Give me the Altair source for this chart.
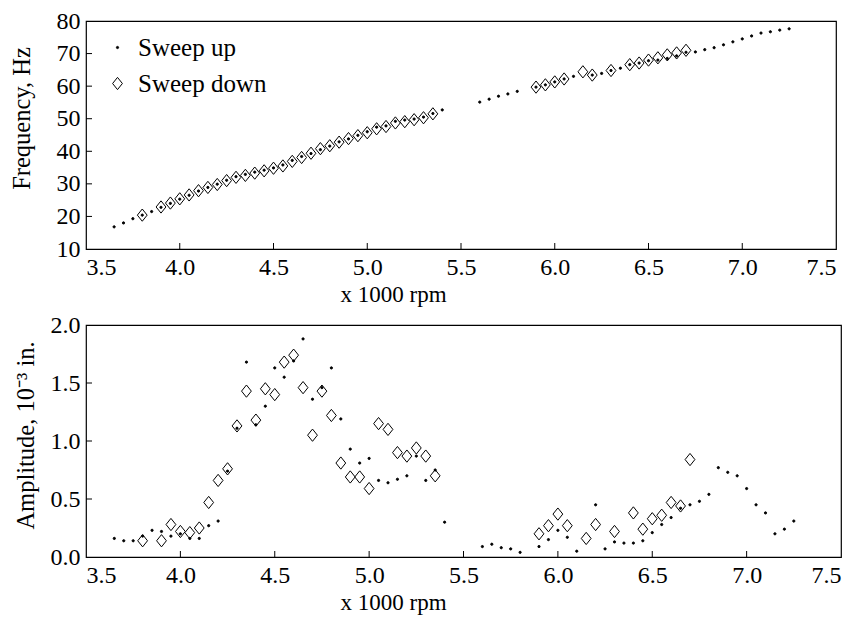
import altair as alt
import pandas as pd

FONT = "Liberation Serif"

# ---------------- data ----------------
# Sweep up (dots): speed in x1000 rpm
up_rpm = [3.65, 3.70, 3.75, 3.80, 3.85, 3.90, 3.95, 4.00, 4.05, 4.10, 4.15, 4.20,
          4.25, 4.30, 4.35, 4.40, 4.45, 4.50, 4.55, 4.60, 4.65, 4.70, 4.75, 4.80,
          4.85, 4.90, 4.95, 5.00, 5.05, 5.10, 5.15, 5.20, 5.25, 5.30, 5.35, 5.40,
          5.60, 5.65, 5.70, 5.75, 5.80,
          5.90, 5.95, 6.00, 6.05, 6.10,
          6.20, 6.25, 6.30, 6.35, 6.40, 6.45, 6.50, 6.55, 6.60, 6.65, 6.70, 6.75,
          6.80, 6.85, 6.90, 6.95, 7.00, 7.05, 7.10, 7.15, 7.20, 7.25]
up_freq = [16.8, 18.0, 19.3, 20.4, 21.5, 22.8, 24.0, 25.3, 26.5, 27.8, 28.9, 29.9,
           31.1, 32.2, 32.9, 33.6, 34.2, 34.9, 35.8, 37.2, 38.4, 39.3, 40.5, 41.6,
           42.9, 43.8, 44.9, 46.0, 47.4, 47.8, 49.2, 49.6, 49.9, 50.5, 51.6, 52.7,
           55.1, 56.0, 56.9, 57.6, 58.4,
           59.7, 60.4, 61.3, 62.2, 63.0,
           63.4, 63.9, 64.8, 65.5, 66.6, 67.1, 67.8, 68.0, 68.5, 69.3, 70.4, 70.5,
           71.2, 71.8, 72.7, 73.6, 74.5, 75.4, 76.3, 76.7, 77.2, 77.6]
up_amp = [0.16, 0.14, 0.14, 0.18, 0.23, 0.22, 0.18, 0.20, 0.16, 0.16, 0.27, 0.31,
          0.74, 1.11, 1.68, 1.14, 1.30, 1.63, 1.55, 1.69, 1.88, 1.36, 1.46, 1.63,
          1.19, 0.93, 0.81, 0.85, 0.66, 0.64, 0.67, 0.70, 0.87, 0.66, 0.75, 0.30,
          0.09, 0.11, 0.08, 0.07, 0.04,
          0.09, 0.15, 0.23, 0.17, 0.05,
          0.45, 0.07, 0.13, 0.12, 0.12, 0.14, 0.21, 0.28, 0.34, 0.42, 0.45, 0.48,
          0.54, 0.77, 0.73, 0.70, 0.59, 0.45, 0.38, 0.20, 0.24, 0.31]

# Sweep down (diamonds)
down_rpm = [3.80, 3.90, 3.95, 4.00, 4.05, 4.10, 4.15, 4.20, 4.25, 4.30, 4.35, 4.40,
            4.45, 4.50, 4.55, 4.60, 4.65, 4.70, 4.75, 4.80, 4.85, 4.90, 4.95, 5.00,
            5.05, 5.10, 5.15, 5.20, 5.25, 5.30, 5.35,
            5.90, 5.95, 6.00, 6.05, 6.15, 6.20, 6.30, 6.40, 6.45, 6.50, 6.55, 6.60,
            6.65, 6.70]
down_freq = [20.4, 22.9, 24.1, 25.4, 26.6, 27.9, 28.9, 29.8, 31.0, 32.0, 32.6, 33.3,
             34.0, 34.8, 35.5, 36.9, 38.1, 39.4, 40.8, 41.7, 42.8, 43.9, 44.8, 45.7,
             46.9, 47.6, 48.7, 49.1, 49.7, 50.3, 51.5,
             59.7, 60.4, 61.3, 62.2, 64.4, 63.4, 64.8, 66.6, 67.1, 68.0, 68.7, 69.6,
             70.2, 71.0]
down_amp = [0.14, 0.14, 0.28, 0.22, 0.21, 0.25, 0.47, 0.66, 0.76, 1.13, 1.43, 1.18,
            1.45, 1.40, 1.68, 1.74, 1.46, 1.05, 1.43, 1.22, 0.81, 0.69, 0.69, 0.59,
            1.15, 1.10, 0.90, 0.87, 0.94, 0.87, 0.70,
            0.20, 0.27, 0.37, 0.27, 0.16, 0.28, 0.22, 0.38, 0.24, 0.33, 0.36, 0.47,
            0.44, 0.84]

series_names = ["Sweep up", "Sweep down"]

x_ticks = [3.5, 4.0, 4.5, 5.0, 5.5, 6.0, 6.5, 7.0, 7.5]
x_inner_ticks = [4.0, 4.5, 5.0, 5.5, 6.0, 6.5, 7.0]
freq_ticks = [10, 20, 30, 40, 50, 60, 70, 80]
freq_inner_ticks = [20, 30, 40, 50, 60, 70]
amp_ticks = [0.0, 0.5, 1.0, 1.5, 2.0]
amp_inner_ticks = [0.5, 1.0, 1.5]

# ---------------- tables ----------------
top_df = pd.DataFrame({
    "rpm": down_rpm + up_rpm,
    "value": down_freq + up_freq,
    "series": [series_names[1]] * len(down_rpm) + [series_names[0]] * len(up_rpm),
})
bot_df = pd.DataFrame({
    "rpm": down_rpm + up_rpm,
    "value": down_amp + up_amp,
    "series": [series_names[1]] * len(down_rpm) + [series_names[0]] * len(up_rpm),
})

DIAMOND = "M0,-1L0.8,0L0,1L-0.8,0Z"

TOP_W, TOP_H = 750, 228
BOT_W, BOT_H = 755, 232


def make_panel(df, y_domain, y_values, y_fmt, y_title, inner_y, w, h, title_pad,
               x_title_x, y_title_y, show_legend):
    xs = alt.Scale(domain=[3.5, 7.5], nice=False, zero=False)
    ys = alt.Scale(domain=y_domain, nice=False, zero=False)
    x_axis = alt.Axis(values=x_ticks, format=".1f", title="x 1000 rpm", labelOverlap=False,
                      labelPadding=6, titlePadding=4, titleX=x_title_x, titleFontSize=23,
                      domain=False, ticks=False, grid=False)
    y_axis = alt.Axis(values=y_values, format=y_fmt, title=y_title, labelOverlap=False,
                      labelPadding=6, titlePadding=title_pad, titleY=y_title_y, titleFontSize=24.5,
                      domain=False, ticks=False, grid=False)
    dom = series_names
    if show_legend:
        leg = alt.Legend(title=None, orient="none", legendX=19, legendY=14, padding=0,
                         labelFont=FONT, labelFontSize=25, labelColor="black",
                         labelOffset=8, rowPadding=10,
                         symbolStrokeColor="black", symbolStrokeWidth=1)
    else:
        leg = None
    pts = alt.Chart(df).mark_point(filled=True, strokeWidth=1, opacity=1).encode(
        x=alt.X("rpm:Q", scale=xs, axis=x_axis),
        y=alt.Y("value:Q", scale=ys, axis=y_axis),
        shape=alt.Shape("series:N", scale=alt.Scale(domain=dom, range=["circle", DIAMOND]), legend=leg),
        fill=alt.Fill("series:N", scale=alt.Scale(domain=dom, range=["black", "transparent"]), legend=leg),
        stroke=alt.Stroke("series:N", scale=alt.Scale(domain=dom, range=["black", "black"]), legend=leg),
        size=alt.Size("series:N", scale=alt.Scale(domain=dom, range=[5, 150]), legend=leg),
    )
    xt = alt.Chart(pd.DataFrame({"t": x_inner_ticks})).mark_rule(color="black", strokeWidth=1).encode(
        x=alt.X("t:Q", scale=xs, axis=x_axis),
        y=alt.value(h), y2=alt.value(h - 6),
    )
    yt = alt.Chart(pd.DataFrame({"t": inner_y})).mark_rule(color="black", strokeWidth=1).encode(
        y=alt.Y("t:Q", scale=ys, axis=y_axis),
        x=alt.value(0), x2=alt.value(6),
    )
    return alt.layer(xt, yt, pts).properties(width=w, height=h)


top = make_panel(top_df, [10, 80], freq_ticks, "d", "Frequency, Hz", freq_inner_ticks,
                 TOP_W, TOP_H, 22, 307, 97, True)
bottom = make_panel(bot_df, [0, 2], amp_ticks, ".1f", "Amplitude, 10⁻³ in.", amp_inner_ticks,
                    BOT_W, BOT_H, 12, 307, 110, False)

chart = alt.vconcat(top, bottom, spacing=5).resolve_legend(
    shape="independent", fill="independent", size="independent", stroke="independent"
).properties(
    padding={"left": 0, "top": 0, "right": 5, "bottom": 5},
    background="white",
).configure_view(
    stroke="black", strokeWidth=1.2
).configure_axis(
    domain=False, ticks=False, grid=False,
    labelFont=FONT, labelFontSize=24, labelColor="black",
    titleFont=FONT, titleFontWeight="normal", titleColor="black",
)

chart.save("out.html", embed_options={"renderer": "svg", "actions": False})
